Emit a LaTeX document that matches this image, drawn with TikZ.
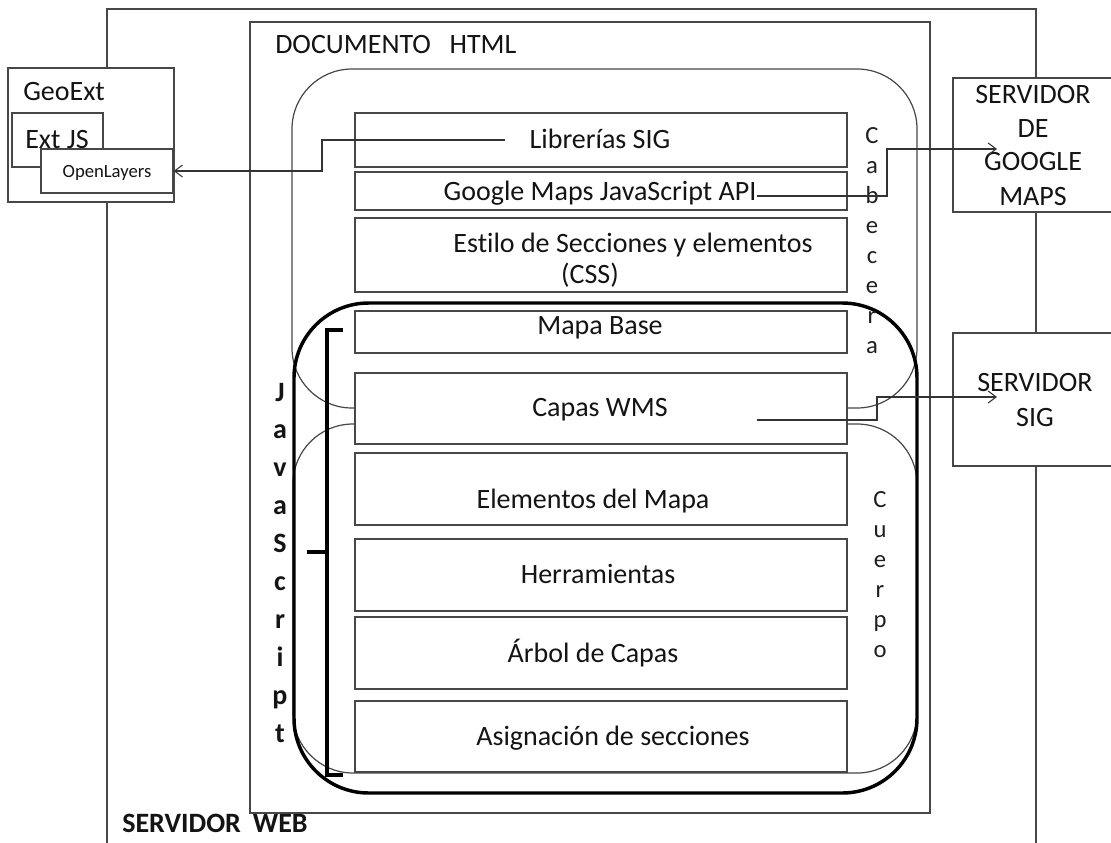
\documentclass[tikz,border=0pt]{standalone}
\usepackage{fontspec}
\setmainfont{Carlito}[Ligatures=NoCommon]
\usetikzlibrary{arrows.meta,fit}
\begin{document}
\begin{tikzpicture}[x=0.75pt,y=-0.75pt,
  ln/.style={draw=black!72, line width=0.9pt},
  boxs/.style={ln, fill=white, inner sep=0pt},
  rbox/.style={ln, inner sep=0pt, rounded corners=45pt},
  lbl/.style={inner sep=0pt, anchor=base, text=black!92, font=\fontsize{21}{25}\selectfont},
  lblw/.style={lbl, anchor=base west},
  bld/.style={lbl, font=\bfseries\fontsize{21}{25}\selectfont},
  vlet/.style={lbl, text=black!88, font=\fontsize{18.5}{22}\selectfont},
  arr/.style={draw=black!80, line width=0.8pt, -{Straight Barb[length=6pt,width=9pt]}}
]
\useasboundingbox[fill=white] (0,0) rectangle (1111,843);

% SERVIDOR WEB (open at the bottom)
\draw[ln] (107,850) -- (107,9) -- (1036,9) -- (1036,850);
\node[bld, anchor=base west] (web) at (122,832) {SERVIDOR\hspace{9pt}WEB};

% DOCUMENTO HTML
\node[boxs, fill=none, fit={(250,22) (930,813)}] (doc) {};
\node[lblw] (doct) at (275,53) {DOCUMENTO\hspace{14pt}HTML};

% Cabecera, Cuerpo, JavaScript regions
\node[rbox, fit={(292,69) (917,408)}] (cab) {};
\node[rbox, fit={(293,424) (917,773)}] (cue) {};
\node[ln, draw=black, line width=2.6pt, inner sep=0pt, rounded corners=56pt, fit={(294,303) (917,793)}] (jsr) {};

% bracket
\draw[draw=black, line width=3pt] (343,330) -- (327,330) -- (327,775) -- (343,775);
\draw[draw=black, line width=3pt] (307,552) -- (327,552);

% inner boxes
\node[boxs, fit={(355,113) (847,167)}] (lib) {};
\node[boxs, fit={(355,172) (847,210)}] (gm) {};
\node[boxs, fit={(355,218) (847,292)}] (est) {};
\node[boxs, fit={(355,311) (847,353)}] (mb) {};
\node[boxs, fit={(355,373) (847,444)}] (wms) {};
\node[boxs, fit={(355,453) (847,525)}] (el) {};
\node[boxs, fit={(355,539) (847,611)}] (her) {};
\node[boxs, fit={(355,617) (847,689)}] (arb) {};
\node[boxs, fit={(355,701) (847,772)}] (asi) {};

\node[lbl] (libt) at (600,148) {Librerías SIG};
\node[lbl] (gmt) at (600,200) {Google Maps JavaScript API};
\node[lbl] (estt1) at (633,252) {Estilo de Secciones y elementos};
\node[lbl] (estt2) at (590,283) {(CSS)};
\node[lbl] (mbt) at (600,334) {Mapa Base};
\node[lbl] (wmst) at (600,416) {Capas WMS};
\node[lbl] (elt) at (593,508) {Elementos del Mapa};
\node[lbl] (hert) at (598,583) {Herramientas};
\node[lbl] (arbt) at (593,662) {Árbol de Capas};
\node[lbl] (asit) at (613,745) {Asignación de secciones};

% vertical words
\foreach \ch/\yy [count=\k] in {C/143,a/173,b/203,e/233,c/263,e/293,r/323,a/353}
  \node[vlet] (cb\k) at (872,\yy) {\ch};
\foreach \ch/\yy [count=\k] in {C/507,u/537,e/567,r/597,p/627,o/657}
  \node[vlet] (cp\k) at (880,\yy) {\ch};
\foreach \ch/\yy [count=\k] in {J/401,a/438,v/476,a/514,S/552,c/590,r/628,i/666,p/704,t/742}
  \node[bld] (js\k) at (280,\yy) {\ch};

% GeoExt group
\node[boxs, fit={(8,68) (174,202)}] (geo) {};
\node[lblw] (geot) at (23,100) {GeoExt};
\node[boxs, fit={(12,113) (103,167)}] (ext) {};
\node[lblw] (extt) at (25,148) {Ext JS};
\node[boxs, fit={(41,149) (173,193)}] (opl) {};
\node[lbl, font=\fontsize{14}{17}\selectfont] (oplt) at (107,177) {OpenLayers};

% servers
\node[boxs, fit={(953,78) (1118,212)}] (sgm) {};
\node[lbl] (sg1) at (1033,103) {SERVIDOR};
\node[lbl] (sg2) at (1033,137) {DE};
\node[lbl] (sg3) at (1033,170) {GOOGLE};
\node[lbl] (sg4) at (1033,205) {MAPS};
\node[boxs, fit={(953,333) (1118,466)}] (ssig) {};
\node[lbl] (ss1) at (1035,391) {SERVIDOR};
\node[lbl] (ss2) at (1035,426) {SIG};

% connectors
\coordinate (libs) at (505,140);
\coordinate (gms) at (757,196);
\coordinate (gtip) at (997,149);
\coordinate (wmss) at (757,420);
\coordinate (wtip) at (997,397);
\draw[arr] (libs) -- (322,140) |- (opl.east);
\draw[arr] (gms) -- (887,196) |- (gtip);
\draw[arr] (wmss) -- (877,420) |- (wtip);
\end{tikzpicture}
\end{document}
